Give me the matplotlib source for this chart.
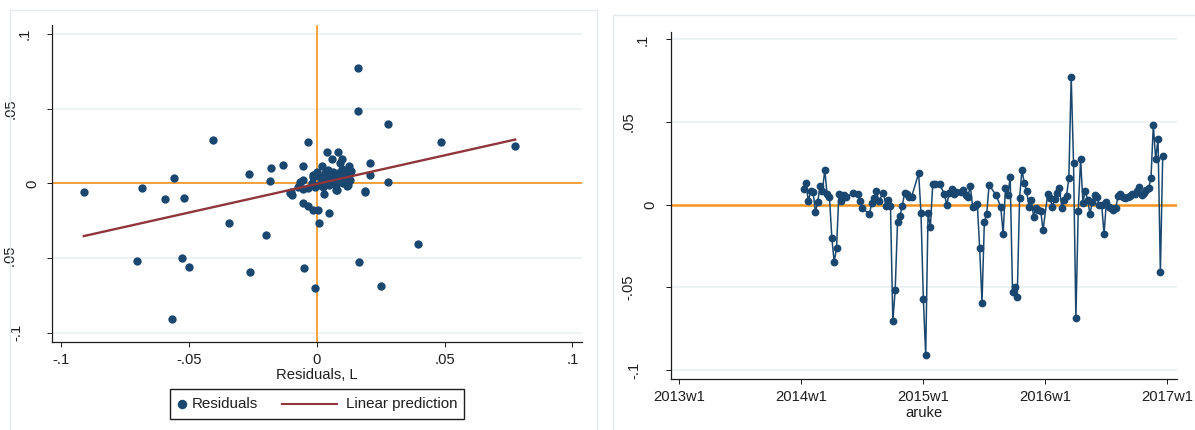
import matplotlib.pyplot as plt
from matplotlib.patches import Rectangle
from matplotlib.lines import Line2D
from matplotlib.offsetbox import AnchoredOffsetbox, DrawingArea, HPacker, TextArea

plt.rcParams['font.family'] = ['Liberation Sans', 'DejaVu Sans']

# weekly residuals, week index counted from 2013w1
weeks = [53, 54, 55, 56, 57, 58, 59, 60, 61, 62, 63, 64, 65, 66, 67, 68, 69, 70, 71,
         74, 76, 77, 78, 81, 82, 83, 84, 85, 87, 88, 89, 90, 91, 92, 93, 94, 95, 96,
         97, 98, 99, 102, 103, 104, 105, 106, 107, 108, 109, 111, 113, 114, 115, 116,
         117, 118, 120, 121, 122, 123, 124, 125, 126, 127, 128, 129, 130, 131, 132,
         135, 137, 138, 139, 140, 141, 142, 143, 144, 145, 146, 147, 148, 149, 150,
         151, 152, 153, 154, 155, 157, 158, 159, 160, 161, 162, 163, 164, 165, 166,
         167, 168, 169, 170, 171, 172, 173, 174, 175, 176, 177, 178, 179, 180, 181,
         182, 183, 184, 185, 186, 187, 188, 189, 190, 191, 192, 193, 194, 195, 196,
         197, 198, 199, 200, 201, 202, 203, 204, 205, 206]
resid = [0.0093, 0.0129, 0.0020, 0.0085, 0.0078, -0.0044, 0.0018, 0.0113, 0.0085, 0.0210,
         0.0063, 0.0048, -0.0200, -0.0345, -0.0264, 0.0063, 0.0022, 0.0059, 0.0048,
         0.0069, 0.0065, 0.0024, -0.0022, -0.0056, 0.0008, 0.0039, 0.0085, 0.0022,
         0.0073, -0.0008, 0.0028, -0.0008, -0.0704, -0.0516, -0.0103, -0.0068, -0.0008,
         0.0069, 0.0063, 0.0048, 0.0048, 0.0190, -0.0052, -0.0571, -0.0910, -0.0052,
         -0.0133, 0.0123, 0.0123, 0.0123, 0.0063, -0.0002, 0.0073, 0.0093, 0.0063,
         0.0079, 0.0079, 0.0089, 0.0059, 0.0048, 0.0113, -0.0012, -0.0008, 0.0004,
         -0.0264, -0.0593, -0.0103, -0.0056, 0.0119, 0.0059, -0.0016, -0.0177, 0.0103,
         0.0059, 0.0166, -0.0526, -0.0500, -0.0560, 0.0039, 0.0210, 0.0133, 0.0085,
         -0.0012, 0.0028, -0.0073, -0.0022, -0.0032, -0.0036, -0.0153, 0.0063, 0.0039,
         -0.0012, 0.0033, 0.0069, 0.0099, -0.0018, 0.0028, 0.0053, 0.0160, 0.0775,
         0.0250, -0.0688, -0.0036, 0.0277, 0.0012, 0.0085, 0.0030, -0.0056, 0.0018,
         0.0059, 0.0045, -0.0002, -0.0002, -0.0179, 0.0018, -0.0012, -0.0022, -0.0032,
         -0.0018, 0.0053, 0.0065, 0.0048, 0.0042, 0.0048, 0.0054, 0.0065, 0.0065,
         0.0085, 0.0105, 0.0059, 0.0073, 0.0089, 0.0099, 0.0160, 0.0482, 0.0275,
         0.0398, -0.0407, 0.0297]

# residual against its own lag
lag_x = [-0.0911, -0.0684, -0.0559, -0.0594, -0.0519, -0.0405, -0.0345, -0.0264, -0.0200,
         -0.0180, -0.0182, -0.0131, -0.0100, -0.0097, -0.0054, -0.0035, -0.0053, -0.0034,
         -0.0016, 0.0003, 0.0007, 0.0046, 0.0028, -0.0704, -0.0527, -0.0499, -0.0263,
         -0.0050, -0.0006, -0.0568, 0.0161, 0.0162, 0.0278, 0.0485, 0.0776, 0.0209,
         0.0210, 0.0277, 0.0189, 0.0397, 0.0166, 0.0251,
         0.0038, 0.0081, 0.0058, 0.0090, 0.0019, 0.0127, 0.0097, 0.0132, -0.0014,
         0.0077, 0.0117, 0.0129, -0.0103, -0.0066, -0.0053, -0.0073, -0.0053, -0.0034,
         -0.0014, -0.0001, 0.0047, 0.0071, 0.0080, 0.0103, 0.0123, 0.0117, 0.0188,
         0.0012, 0.0032, 0.0045, 0.0064, 0.0084, 0.0097, 0.0110, 0.0051, 0.0071,
         0.0090, 0.0019, 0.0038, 0.0058, 0.0077, 0.0025, -0.0020, -0.0007, 0.0005]
lag_y = [-0.0056, -0.0033, 0.0037, -0.0105, -0.0098, 0.0290, -0.0266, 0.0062, -0.0346,
         0.0104, 0.0015, 0.0120, -0.0060, -0.0076, 0.0118, 0.0276, -0.0130, -0.0152,
         -0.0179, -0.0179, -0.0263, -0.0201, -0.0072, -0.0518, -0.0500, -0.0558, -0.0593,
         -0.0569, -0.0703, -0.0910, 0.0769, 0.0484, 0.0395, 0.0278, 0.0250, 0.0134,
         0.0056, 0.0011, -0.0056, -0.0406, -0.0524, -0.0685,
         0.0207, 0.0207, 0.0160, 0.0134, 0.0116, 0.0118, 0.0163, 0.0082, 0.0056,
         -0.0045, -0.0016, 0.0022, -0.0067, 0.0011, 0.0022, -0.0023, -0.0040, -0.0033,
         0.0044, 0.0078, -0.0011, 0.0022, -0.0045, 0.0000, -0.0011, 0.0044, -0.0052,
         0.0044, 0.0067, 0.0089, 0.0078, 0.0067, 0.0094, 0.0078, 0.0033, 0.0044,
         0.0033, 0.0011, 0.0022, 0.0000, -0.0011, -0.0023, 0.0000, -0.0023, -0.0011]

fit_slope = 0.383
fit_intercept = -0.0004

y_ticks = [-0.1, -0.05, 0, 0.05, 0.1]
y_tick_labels = ['-.1', '-.05', '0', '.05', '.1']
x_ticks_left = [-0.1, -0.05, 0, 0.05, 0.1]
x_tick_labels_left = ['-.1', '-.05', '0', '.05', '.1']
x_ticks_right = [0, 52, 104, 156, 208]
x_tick_labels_right = ['2013w1', '2014w1', '2015w1', '2016w1', '2017w1']

NAVY = '#1A476F'
ORANGE = '#F7941D'
MAROON = '#90353B'
GRID = '#E8EFF1'
FRAME = '#E2EAEC'
INK = '#1E1E1E'
FS = 10.6

W, H = 1195, 430
fig = plt.figure(figsize=(W / 100, H / 100), dpi=100)


def axes_px(left, top, right, bottom):
    return fig.add_axes([left / W, 1 - bottom / H, (right - left) / W, (bottom - top) / H])


# light outline around each graph
fig.add_artist(Rectangle((9.6 / W, -0.05), (597 - 9.6) / W, 1.05 - 10 / H,
                         transform=fig.transFigure, fill=False, ec=FRAME, lw=1))
fig.add_artist(Rectangle((613.3 / W, -0.05), 0.5, 1.05 - 15 / H,
                         transform=fig.transFigure, fill=False, ec=FRAME, lw=1))


def style_axes(ax):
    for side in ('top', 'right'):
        ax.spines[side].set_visible(False)
    for side in ('left', 'bottom'):
        ax.spines[side].set_linewidth(0.9)
        ax.spines[side].set_color(INK)
    ax.tick_params(direction='out', length=3.6, width=0.72, color=INK,
                   labelsize=FS, labelcolor=INK, pad=4.5)
    ax.set_yticks(y_ticks)
    ax.set_yticklabels([])
    ax.grid(axis='y', color=GRID, lw=1.1)
    ax.set_axisbelow(True)
    # vertical tick labels, set further out the longer the label
    for v, lab in zip(y_ticks, y_tick_labels):
        em = sum({'-': 0.333, '.': 0.278}.get(c, 0.556) for c in lab)
        off = min(6 + 26 * em, 42) * 0.72
        ax.annotate(lab, xy=(0, v), xycoords=('axes fraction', 'data'),
                    xytext=(-off, 0), textcoords='offset points', rotation=90,
                    ha='center', va='center', fontsize=FS, color=INK,
                    annotation_clip=False)


# left: residual vs lagged residual
ax1 = axes_px(52.4, 25, 581.7, 341.7)
style_axes(ax1)
ax1.set_xlim(-0.1034, 0.1036)
ax1.set_ylim(-0.106, 0.106)
ax1.set_xticks(x_ticks_left)
ax1.set_xticklabels(x_tick_labels_left)
ax1.axhline(0, color=ORANGE, lw=1.2, zorder=1)
ax1.axvline(0, color=ORANGE, lw=1.2, zorder=1)
ax1.scatter(lag_x, lag_y, s=36, color=NAVY, linewidths=0, zorder=3)
fx = [min(lag_x), max(lag_x)]
ax1.plot(fx, [fit_slope * v + fit_intercept for v in fx], color=MAROON, lw=1.7, zorder=4)
ax1.set_xlabel('Residuals, L', fontsize=FS, color=INK, labelpad=1)

# legend box under the scatter
def dot_box():
    da = DrawingArea(16 * 0.72, 12, 0, 0)
    da.add_artist(Line2D([5.5 * 0.72], [6], marker='o', ms=5.8, color=NAVY, lw=0))
    return da


def line_box():
    da = DrawingArea(64 * 0.72, 12, 0, 0)
    da.add_artist(Line2D([0, 55 * 0.72], [6, 6], color=MAROON, lw=1.5))
    return da


items = HPacker(children=[dot_box(),
                          TextArea('Residuals', textprops=dict(fontsize=FS + 0.3, color=INK)),
                          DrawingArea(24 * 0.72, 12, 0, 0),
                          line_box(),
                          TextArea('Linear prediction', textprops=dict(fontsize=FS + 0.3, color=INK))],
                align='center', pad=0, sep=0)
leg = AnchoredOffsetbox(loc='center', child=items, pad=0.45, borderpad=0,
                        bbox_to_anchor=(317 / W, 1 - 404 / H),
                        bbox_transform=fig.transFigure, frameon=True)
leg.patch.set_edgecolor(INK)
leg.patch.set_linewidth(1.0)
leg.patch.set_boxstyle('square', pad=0)
fig.add_artist(leg)

# right: residuals over time
ax2 = axes_px(670.6, 31.7, 1176.8, 379)
style_axes(ax2)
ax2.set_xlim(-3.7, 212)
ax2.set_ylim(-0.1055, 0.1047)
ax2.set_xticks(x_ticks_right)
ax2.set_xticklabels(x_tick_labels_right)
ax2.axhline(0, color=ORANGE, lw=1.8, zorder=1)
ax2.plot(weeks, resid, color=NAVY, lw=1.1, marker='o', ms=5.6, mew=0, zorder=3)
ax2.set_xlabel('aruke', fontsize=FS, color=INK, labelpad=1)

fig.savefig('out.png', dpi=100)
